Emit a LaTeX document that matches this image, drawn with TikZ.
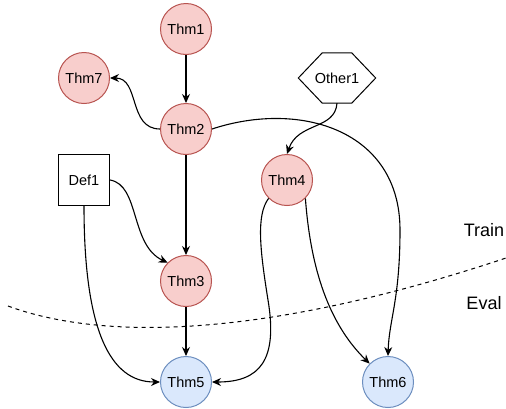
\documentclass[tikz,border=0pt]{standalone}
\usepackage{fontspec}
\setmainfont{Liberation Sans}
\usetikzlibrary{arrows.meta}
\definecolor{redfill}{HTML}{F8CECC}
\definecolor{redline}{HTML}{B85450}
\definecolor{bluefill}{HTML}{DAE8FC}
\definecolor{blueline}{HTML}{6C8EBF}
\begin{document}
\begin{tikzpicture}[x=1pt,y=-1pt,
  thmred/.style={circle,draw=redline,fill=redfill,line width=1pt,minimum size=51pt,inner sep=0pt,font=\fontsize{14.5}{16}\selectfont},
  thmblue/.style={circle,draw=blueline,fill=bluefill,line width=1pt,minimum size=51pt,inner sep=0pt,font=\fontsize{14.5}{16}\selectfont},
  defbox/.style={rectangle,draw=black,fill=white,line width=1pt,minimum width=51pt,minimum height=51pt,inner sep=0pt,font=\fontsize{14.5}{16}\selectfont},
  hexbox/.style={rectangle,draw=none,minimum width=77pt,minimum height=50pt,inner sep=0pt,font=\fontsize{14.5}{16}\selectfont},
  edge/.style={line width=1.1pt,-{Stealth[length=9pt,width=8pt]}},
  sidelabel/.style={font=\fontsize{18}{20}\selectfont}]
\useasboundingbox (0,0) rectangle (506,408);
\fill[white] (0,0) rectangle (506,408);
% dashed separator
\draw[line width=1pt,dash pattern=on 4pt off 4pt] (8,306) .. controls (100,340) and (260,340) .. (506,258);
% nodes
\node[thmred] (t1) at (186,29) {Thm1};
\node[thmred] (t7) at (84,78) {Thm7};
\node[thmred] (t2) at (186,129) {Thm2};
\node[hexbox] (o1) at (337,78) {Other1};
\draw[line width=1pt] (o1.west) -- ([xshift=24pt]o1.north west) -- ([xshift=-24pt]o1.north east) -- (o1.east) -- ([xshift=-24pt]o1.south east) -- ([xshift=24pt]o1.south west) -- cycle;
\node[thmred] (t4) at (287,180) {Thm4};
\node[defbox] (d1) at (84,180) {Def1};
\node[thmred] (t3) at (186,281) {Thm3};
\node[thmblue] (t5) at (186,382) {Thm5};
\node[thmblue] (t6) at (388,382) {Thm6};
\node[sidelabel] (train) at (484,230) {Train};
\node[sidelabel] (eval) at (484,303) {Eval};
% edges
\draw[edge] (t1) -- (t2);
\draw[edge] (t2.west) .. controls (128,129) and (140,78) .. (t7.east);
\draw[edge] (t2) -- (t3);
\draw[edge] (t3) -- (t5);
\draw[edge] (t2.east) .. controls (300,100) and (400,130) .. (400,230) .. controls (400,300) and (389,320) .. (t6.north);
\draw[edge] (o1.south) .. controls (335,130) and (298,122) .. (t4.north);
\draw[edge] (d1.east) .. controls (140,185) and (130,245) .. (t3.north west);
\draw[edge] (d1.south) .. controls (84,330) and (110,382) .. (t5.west);
\draw[edge] (t4.south west) .. controls (256,215) and (260,250) .. (268,300) .. controls (278,360) and (260,382) .. (t5.east);
\draw[edge] (t4.south east) .. controls (310,260) and (325,320) .. (t6.north west);
\end{tikzpicture}
\end{document}
